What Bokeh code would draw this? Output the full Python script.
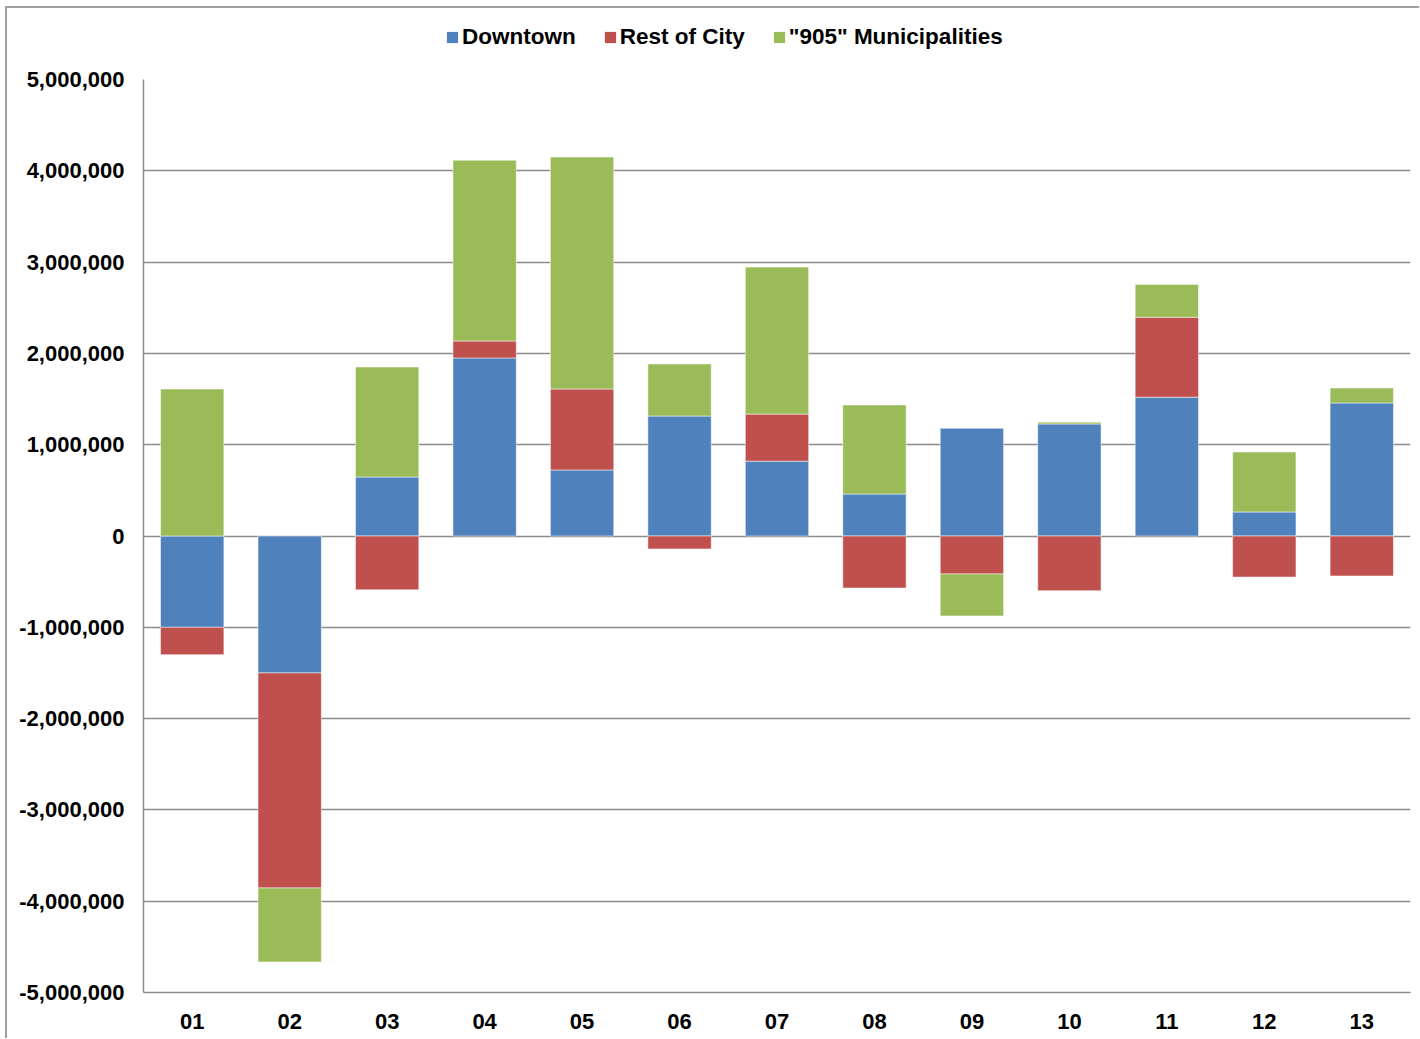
from bokeh.plotting import figure
from bokeh.layouts import column
from bokeh.models import ColumnDataSource, Legend, LegendItem, NumeralTickFormatter, FixedTicker, Range1d
from bokeh.embed import file_html
from bokeh.resources import INLINE

categories = ["01", "02", "03", "04", "05", "06", "07", "08", "09", "10", "11", "12", "13"]
series_names = ["Downtown", "Rest of City", "\"905\" Municipalities"]
downtown = [-1000000, -1500000, 646000, 1950000, 723000, 1314000, 820000, 460000, 1180000, 1227000, 1520000, 263000, 1457000]
rest_of_city = [-300000, -2355000, -590000, 186000, 887000, -142000, 515000, -570000, -416000, -600000, 876000, -450000, -438000]
gta_905 = [1610000, -810000, 1205000, 1980000, 2540000, 570000, 1610000, 975000, -460000, 20000, 360000, 657000, 164000]
colors = ["#4F81BD", "#C0504D", "#9BBB59"]
y_ticks = [-5000000, -4000000, -3000000, -2000000, -1000000, 0, 1000000, 2000000, 3000000, 4000000, 5000000]

FONT = "Liberation Sans"

# main chart
p = figure(x_range=categories, width=1412, height=980, output_backend="svg",
           toolbar_location=None, min_border_left=136, min_border_right=9,
           min_border_top=21, min_border_bottom=46)
p.y_range = Range1d(-5000000, 5000000)

pos = [0.0] * len(categories)
neg = [0.0] * len(categories)
for name, vals, col in zip(series_names, [downtown, rest_of_city, gta_905], colors):
    bottoms, tops = [], []
    for i, v in enumerate(vals):
        if v >= 0:
            bottoms.append(pos[i]); pos[i] += v; tops.append(pos[i])
        else:
            tops.append(neg[i]); neg[i] += v; bottoms.append(neg[i])
    src = ColumnDataSource(dict(x=categories, bottom=bottoms, top=tops))
    p.vbar(x="x", bottom="bottom", top="top", width=0.65, source=src,
           fill_color=col, line_color="white", line_alpha=0.5, line_width=1)

p.outline_line_color = None
p.xgrid.grid_line_color = None
p.ygrid.grid_line_color = "#8c8c8c"
p.ygrid.grid_line_width = 1.5
p.yaxis.ticker = FixedTicker(ticks=y_ticks)
p.yaxis.formatter = NumeralTickFormatter(format="0,0")
for ax in (p.xaxis[0], p.yaxis[0]):
    ax.axis_line_color = "#8c8c8c"
    ax.axis_line_width = 1.5
    ax.major_tick_line_color = None
    ax.minor_tick_line_color = None
    ax.major_label_text_font = FONT
    ax.major_label_text_font_style = "bold"
    ax.major_label_text_font_size = "22px"
    ax.major_label_text_color = "black"
p.yaxis.major_label_standoff = 13
p.xaxis.major_label_standoff = 15

# legend strip above the chart (its frame is aligned with the chart's frame)
lf = figure(width=1412, height=50, output_backend="svg", toolbar_location=None,
            x_axis_type=None, y_axis_type=None, min_border=0,
            x_range=Range1d(0, 1), y_range=Range1d(0, 1))
lf.outline_line_color = None
lf.grid.grid_line_color = None
items = []
for name, col in zip(series_names, colors):
    r = lf.vbar(x=[0.5], bottom=[0], top=[0], width=0, fill_color=col, line_color=None)
    items.append(LegendItem(label=name, renderers=[r], index=0))
legend = Legend(items=items, orientation="horizontal", location=(302, 8),
                glyph_width=14, glyph_height=14, label_standoff=3, spacing=27,
                padding=0, margin=0, border_line_color=None, background_fill_alpha=0,
                label_text_font=FONT, label_text_font_style="bold",
                label_text_font_size="22.5px", label_text_color="black")
lf.add_layout(legend, "center")

layout = column(lf, p, spacing=0, margin=(6, 0, 0, 5),
                styles={"border-left": "2px solid #a0a0a0", "border-top": "2px solid #a0a0a0"})

open("out.html", "w").write(file_html(layout, INLINE))
